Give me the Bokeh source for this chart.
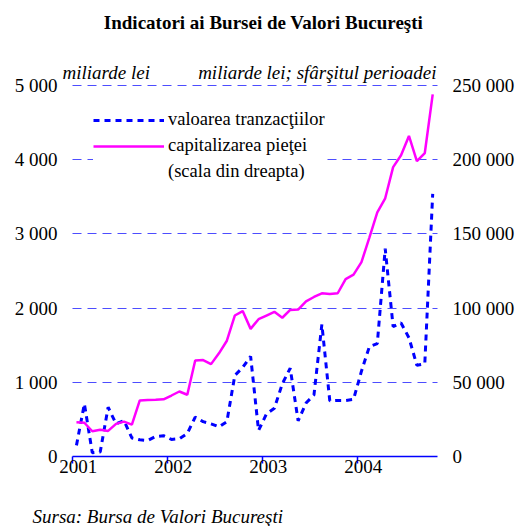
from bokeh.plotting import figure
from bokeh.models import LinearAxis, Range1d, FixedTicker, Legend, LegendItem, Label
from bokeh.embed import file_html
from bokeh.resources import INLINE

# ---- data ----
months = [f"{y}-{m:02d}" for y in (2001, 2002, 2003, 2004) for m in range(1, 13)][:46]
# valoarea tranzactiilor, miliarde lei (left axis)
tranzactii = [150, 710, 50, 60, 664, 440, 485, 250, 225, 215, 270, 280,
              230, 240, 310, 530, 470, 440, 400, 470, 1092, 1200, 1350, 350,
              575, 650, 980, 1190, 480, 720, 830, 1780, 750, 755, 755, 770,
              1150, 1480, 1520, 2800, 1750, 1800, 1600, 1230, 1250, 3540]
# capitalizarea pietei, miliarde lei, sfarsitul perioadei (right axis)
capitalizare = [23100, 22750, 17000, 18000, 17250, 22000, 23500, 21500, 37750, 38100, 38200, 38500,
                41100, 43800, 41600, 64700, 65000, 62250, 69500, 78000, 95000, 98000, 86000, 92500,
                95000, 97500, 93500, 98750, 99000, 104500, 107500, 110000, 109500, 110000, 119500, 122500,
                131000, 147500, 164500, 174000, 195000, 203000, 216000, 199000, 204500, 244000]
left_ticks = [0, 1000, 2000, 3000, 4000, 5000]
left_labels = ["0", "1 000", "2 000", "3 000", "4 000", "5 000"]
right_ticks = [0, 50000, 100000, 150000, 200000, 250000]
right_labels = ["0", "50 000", "100 000", "150 000", "200 000", "250 000"]
year_ticks = [2001, 2002, 2003, 2004]
year_labels = ["2001", "2002", "2003", "2004"]

x = [int(s[:4]) + (int(s[5:]) - 0.5) / 12 for s in months]

# ---- layout (pixels, relative to the page) ----
W, H = 517, 526
OX, OY = 0, 0
AX_L, AX_R = 72, 437          # plot area left / right
PX_YEAR = 95.0
Y0_PX, Y5000_PX = 456, 85
YMAX = 5000
RATIO = 50                    # right scale / left scale

def px2x(px):
    return 2001 + (px - AX_L) / PX_YEAR

def px2y(py):
    return (Y0_PX - py) * YMAX / (Y0_PX - Y5000_PX)

x_start, x_end = px2x(OX), px2x(OX + W)
y_start, y_end = px2y(OY + H), px2y(OY)
x_axis_end = px2x(AX_R)

FONT = "Liberation Serif"
BLUE = "#0000FF"
MAG = "#FF00FF"

p = figure(width=W, height=H, output_backend="svg", toolbar_location=None,
           x_range=Range1d(x_start, x_end), y_range=Range1d(y_start, y_end),
           min_border=0)
p.outline_line_color = None
p.background_fill_color = "white"
p.border_fill_color = "white"

# left axis
ya = p.yaxis[0]
ya.fixed_location = 2001
ya.ticker = FixedTicker(ticks=left_ticks)
ya.major_label_overrides = dict(zip(left_ticks, left_labels))
ya.axis_line_color = None
ya.major_tick_line_color = None
ya.major_tick_out = 0
ya.major_tick_in = 0
ya.minor_tick_line_color = None
ya.major_label_standoff = 15
ya.major_label_text_font = FONT
ya.major_label_text_font_size = "19px"
ya.major_label_text_color = "black"

# right axis
p.extra_y_ranges = {"cap": Range1d(y_start * RATIO, y_end * RATIO)}
ra = LinearAxis(y_range_name="cap", fixed_location=x_axis_end)
ra.ticker = FixedTicker(ticks=right_ticks)
ra.major_label_overrides = dict(zip(right_ticks, right_labels))
ra.axis_line_color = None
ra.major_tick_line_color = None
ra.major_tick_out = 0
ra.major_tick_in = 0
ra.minor_tick_line_color = None
ra.major_label_standoff = 15
ra.major_label_text_font = FONT
ra.major_label_text_font_size = "19px"
ra.major_label_text_color = "black"
p.add_layout(ra, "right")

# x axis: line + ticks
xa = p.xaxis[0]
xa.fixed_location = 0
xa.bounds = (2001, x_axis_end)
xa.ticker = FixedTicker(ticks=year_ticks)
xa.major_label_text_alpha = 0
xa.axis_line_color = BLUE
xa.axis_line_width = 1.5
xa.major_tick_line_color = BLUE
xa.major_tick_line_width = 1.5
xa.major_tick_out = 7
xa.major_tick_in = 0
xa.minor_tick_line_color = None

# x axis labels (slightly right of the ticks, as in the original)
label_pos = [t + 0.06 for t in year_ticks]
xl = LinearAxis(fixed_location=0)
xl.ticker = FixedTicker(ticks=label_pos)
xl.major_label_overrides = dict(zip(label_pos, year_labels))
xl.axis_line_color = None
xl.major_tick_line_color = None
xl.minor_tick_line_color = None
xl.major_tick_out = 0
xl.major_tick_in = 0
xl.major_label_standoff = 3
xl.major_label_text_font = FONT
xl.major_label_text_font_size = "19px"
xl.major_label_text_color = "black"
p.add_layout(xl, "below")

# grid
p.xgrid.grid_line_color = None
p.ygrid.ticker = FixedTicker(ticks=left_ticks[1:])
p.ygrid.grid_line_color = "#4D4DFF"
p.ygrid.grid_line_dash = "9 6"
p.ygrid.grid_line_width = 1
try:
    p.ygrid.cross_bounds = (2001, x_axis_end)
except Exception:
    p.ygrid.grid_line_color = None
    p.segment(x0=[2001] * 5, x1=[x_axis_end] * 5, y0=left_ticks[1:], y1=left_ticks[1:],
              line_color="#4D4DFF", line_dash="9 6", line_width=1)

# lines
r_tr = p.line(x, tranzactii, line_color=BLUE, line_width=3, line_dash="6 5")
r_cap = p.line(x, capitalizare, y_range_name="cap", line_color=MAG, line_width=2.5)
r_dummy = p.line([x[0]], [0], line_alpha=0)

legend = Legend(items=[
    LegendItem(label="valoarea tranzacţiilor", renderers=[r_tr]),
    LegendItem(label="capitalizarea pieţei", renderers=[r_cap]),
    LegendItem(label="(scala din dreapta)", renderers=[r_dummy]),
], location=(93, H - 182))
legend.background_fill_color = "white"
legend.background_fill_alpha = 1
legend.border_line_color = None
legend.padding = 14
legend.margin = 0
legend.spacing = 5
legend.glyph_width = 71
legend.label_standoff = 4
legend.label_height = 21
legend.label_text_font = FONT
legend.label_text_font_size = "18.5px"
legend.label_text_color = "black"
p.add_layout(legend, "center")

# texts
common = dict(text_font=FONT, text_color="black", text_baseline="middle")
p.add_layout(Label(x=px2x(263), y=px2y(22), text="Indicatori ai Bursei de Valori Bucureşti",
                   text_align="center", text_font_size="19px", text_font_style="bold", **common))
p.add_layout(Label(x=px2x(62), y=px2y(72), text="miliarde lei",
                   text_align="left", text_font_size="19px", text_font_style="italic", **common))
p.add_layout(Label(x=px2x(436), y=px2y(72), text="miliarde lei; sfârşitul perioadei",
                   text_align="right", text_font_size="19px", text_font_style="italic", **common))
p.add_layout(Label(x=px2x(32), y=px2y(516), text="Sursa: Bursa de Valori Bucureşti",
                   text_align="left", text_font_size="19px", text_font_style="italic", **common))

open("out.html", "w").write(file_html(p, INLINE))
